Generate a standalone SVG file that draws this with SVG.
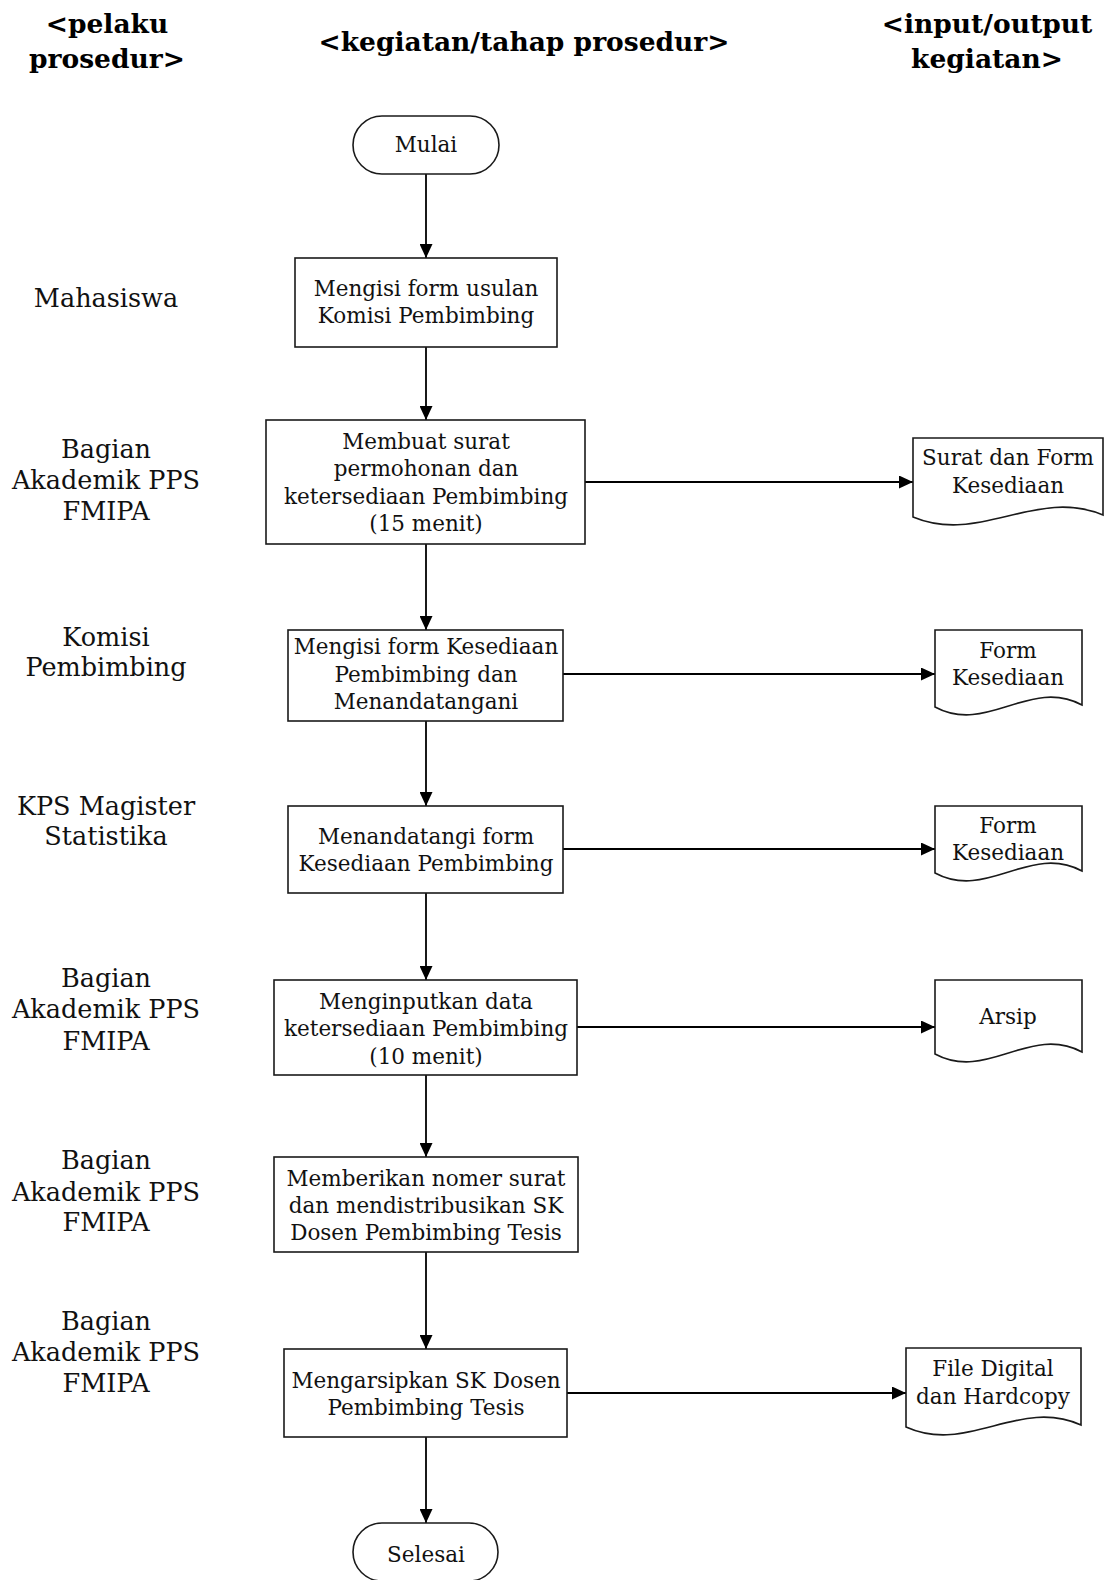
<svg xmlns="http://www.w3.org/2000/svg" width="1105" height="1580" viewBox="0 0 1105 1580">
<style>
.hdr{font-family:"DejaVu Serif","Liberation Serif",serif;font-weight:bold;font-size:26.5px;fill:#000;text-anchor:middle}
.lbl{font-family:"DejaVu Serif","Liberation Serif",serif;font-size:25.5px;fill:#111;text-anchor:middle}
.txt{font-family:"DejaVu Serif","Liberation Serif",serif;font-size:21.5px;fill:#111;text-anchor:middle}
.shape{fill:#fff;stroke:#1a1a1a;stroke-width:1.6}
.conn{stroke:#000;stroke-width:1.8;fill:none;marker-end:url(#arr)}
</style>
<defs>
<marker id="arr" viewBox="0 0 14 13" refX="14" refY="6.5" markerWidth="14" markerHeight="13" markerUnits="userSpaceOnUse" orient="auto">
<path d="M0,0 L14,6.5 L0,13 Z" fill="#000"/>
</marker>
</defs>
<rect width="1105" height="1580" fill="#fff"/>
<g id="headers">
<text class="hdr" x="107" y="33">&lt;pelaku</text>
<text class="hdr" x="107" y="68">prosedur&gt;</text>
<text class="hdr" x="524" y="51">&lt;kegiatan/tahap prosedur&gt;</text>
<text class="hdr" x="987" y="33">&lt;input/output</text>
<text class="hdr" x="987" y="68">kegiatan&gt;</text>
</g>
<g id="actors">
<text class="lbl" x="106" y="307">Mahasiswa</text>
<text class="lbl" x="106" y="458">Bagian</text>
<text class="lbl" x="106" y="489">Akademik PPS</text>
<text class="lbl" x="106" y="520">FMIPA</text>
<text class="lbl" x="106" y="646">Komisi</text>
<text class="lbl" x="106" y="676">Pembimbing</text>
<text class="lbl" x="106" y="815">KPS Magister</text>
<text class="lbl" x="106" y="845">Statistika</text>
<text class="lbl" x="106" y="987">Bagian</text>
<text class="lbl" x="106" y="1018">Akademik PPS</text>
<text class="lbl" x="106" y="1050">FMIPA</text>
<text class="lbl" x="106" y="1169">Bagian</text>
<text class="lbl" x="106" y="1201">Akademik PPS</text>
<text class="lbl" x="106" y="1231">FMIPA</text>
<text class="lbl" x="106" y="1330">Bagian</text>
<text class="lbl" x="106" y="1361">Akademik PPS</text>
<text class="lbl" x="106" y="1392">FMIPA</text>
</g>
<g id="connectors">
<line class="conn" x1="426" y1="174" x2="426" y2="258"/>
<line class="conn" x1="426" y1="347" x2="426" y2="420"/>
<line class="conn" x1="426" y1="544" x2="426" y2="630"/>
<line class="conn" x1="426" y1="721" x2="426" y2="806"/>
<line class="conn" x1="426" y1="893" x2="426" y2="980"/>
<line class="conn" x1="426" y1="1075" x2="426" y2="1157"/>
<line class="conn" x1="426" y1="1252" x2="426" y2="1349"/>
<line class="conn" x1="426" y1="1437" x2="426" y2="1523"/>
<line class="conn" x1="585" y1="482" x2="913" y2="482"/>
<line class="conn" x1="563" y1="674" x2="935" y2="674"/>
<line class="conn" x1="563" y1="849" x2="935" y2="849"/>
<line class="conn" x1="577" y1="1027" x2="935" y2="1027"/>
<line class="conn" x1="567" y1="1393" x2="906" y2="1393"/>
</g>
<g id="mulai">
<rect class="shape" x="353" y="116" width="146" height="58" rx="29"/>
<text class="txt" x="426" y="152">Mulai</text>
</g>
<g id="step1">
<rect class="shape" x="295" y="258" width="262" height="89"/>
<text class="txt" x="426" y="296">Mengisi form usulan</text>
<text class="txt" x="426" y="323">Komisi Pembimbing</text>
</g>
<g id="step2">
<rect class="shape" x="266" y="420" width="319" height="124"/>
<text class="txt" x="426" y="449">Membuat surat</text>
<text class="txt" x="426" y="476">permohonan dan</text>
<text class="txt" x="426" y="504">ketersediaan Pembimbing</text>
<text class="txt" x="426" y="531">(15 menit)</text>
</g>
<g id="doc1">
<path class="shape" d="M913,438 H1103 V515 C1036,487 980,545 913,517 Z"/>
<text class="txt" x="1008" y="465">Surat dan Form</text>
<text class="txt" x="1008" y="493">Kesediaan</text>
</g>
<g id="step3">
<rect class="shape" x="288" y="630" width="275" height="91"/>
<text class="txt" x="426" y="654">Mengisi form Kesediaan</text>
<text class="txt" x="426" y="682">Pembimbing dan</text>
<text class="txt" x="426" y="709">Menandatangani</text>
</g>
<g id="doc2">
<path class="shape" d="M935,630 H1082 V705 C1030,677 987,735 935,707 Z"/>
<text class="txt" x="1008" y="658">Form</text>
<text class="txt" x="1008" y="685">Kesediaan</text>
</g>
<g id="step4">
<rect class="shape" x="288" y="806" width="275" height="87"/>
<text class="txt" x="426" y="844">Menandatangi form</text>
<text class="txt" x="426" y="871">Kesediaan Pembimbing</text>
</g>
<g id="doc3">
<path class="shape" d="M935,806 H1082 V871 C1030,843 987,901 935,873 Z"/>
<text class="txt" x="1008" y="833">Form</text>
<text class="txt" x="1008" y="860">Kesediaan</text>
</g>
<g id="step5">
<rect class="shape" x="274" y="980" width="303" height="95"/>
<text class="txt" x="426" y="1009">Menginputkan data</text>
<text class="txt" x="426" y="1036">ketersediaan Pembimbing</text>
<text class="txt" x="426" y="1064">(10 menit)</text>
</g>
<g id="doc4">
<path class="shape" d="M935,980 H1082 V1052 C1030,1024 987,1082 935,1054 Z"/>
<text class="txt" x="1008" y="1024">Arsip</text>
</g>
<g id="step6">
<rect class="shape" x="274" y="1157" width="304" height="95"/>
<text class="txt" x="426" y="1186">Memberikan nomer surat</text>
<text class="txt" x="426" y="1213">dan mendistribusikan SK</text>
<text class="txt" x="426" y="1240">Dosen Pembimbing Tesis</text>
</g>
<g id="step7">
<rect class="shape" x="284" y="1349" width="283" height="88"/>
<text class="txt" x="426" y="1388">Mengarsipkan SK Dosen</text>
<text class="txt" x="426" y="1415">Pembimbing Tesis</text>
</g>
<g id="doc5">
<path class="shape" d="M906,1348 H1081 V1425 C1019,1397 968,1455 906,1427 Z"/>
<text class="txt" x="993" y="1376">File Digital</text>
<text class="txt" x="993" y="1404">dan Hardcopy</text>
</g>
<g id="selesai">
<rect class="shape" x="353" y="1523" width="145" height="58" rx="29"/>
<text class="txt" x="426" y="1562">Selesai</text>
</g>
</svg>
